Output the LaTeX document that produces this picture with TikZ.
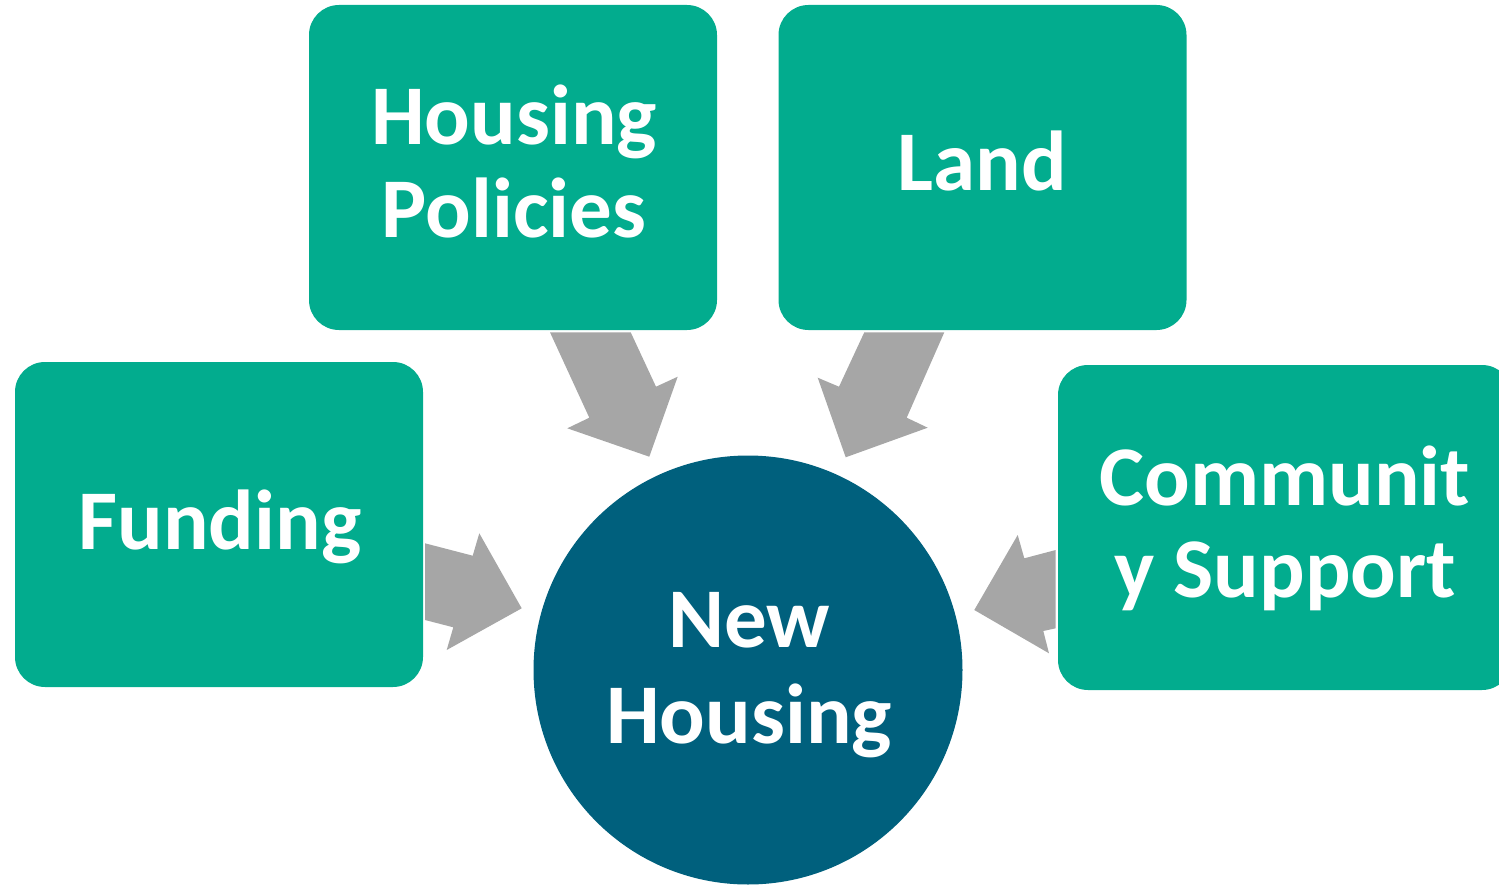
\documentclass[tikz,border=0pt]{standalone}
\usepackage{fontspec}
\setmainfont{Carlito}
\definecolor{teal1}{RGB}{2,172,142}
\definecolor{navy1}{RGB}{0,96,125}
\definecolor{gray1}{RGB}{166,166,166}
\begin{document}
\begin{tikzpicture}[x=1pt,y=-1pt,
  box/.style={fill=teal1,draw=none,rounded corners=30pt,minimum height=325pt,inner sep=0pt},
  hub/.style={circle,fill=navy1,draw=none,minimum size=429pt,inner sep=0pt},
  lbl/.style={anchor=base,text=white,inner sep=0pt,font=\fontsize{85}{92}\selectfont\bfseries},
  blockarrow/.style={fill=gray1,draw=none}]
\useasboundingbox (0,0) rectangle (1499,888);
\clip (0,0) rectangle (1499,888);
% block arrows
\fill[blockarrow] (425,543.3) -- (472.7,555.7) -- (479.3,533.3) -- (521.7,608.3) -- (446.7,650) -- (453.3,627.3) -- (425,620) -- cycle;
\fill[blockarrow] (550,332.3) -- (630.7,332.3) -- (656,386.7) -- (677.7,376.7) -- (649.3,456.7) -- (567.3,428.3) -- (589.3,417.7) -- cycle;
\fill[blockarrow] (864.3,332.3) -- (944.3,332.3) -- (906.7,417.7) -- (927.7,427.7) -- (845.7,457.3) -- (817.7,377.7) -- (839,386.7) -- cycle;
\fill[blockarrow] (1055.7,550) -- (1024.3,558.3) -- (1017.7,535) -- (974.3,610) -- (1049,653.3) -- (1043.3,631) -- (1055.7,628.3) -- cycle;
% boxes
\node[box,minimum width=408pt] (policies) at (513,167.5) {};
\node[box,minimum width=408pt] (land) at (982.5,167.5) {};
\node[box,minimum width=408pt] (funding) at (219,524.5) {};
\node[box,minimum width=454pt] (community) at (1285,527.5) {};
\node[hub] (newhousing) at (748,670) {};
% labels
\node[lbl] (policiesA) at (514,145) {Housing};
\node[lbl] (policiesB) at (514,237) {Policies};
\node[lbl] (landA) at (982,190) {Land};
\node[lbl] (fundingA) at (220,549) {Funding};
\node[lbl] (communityA) at (1285,505) {Communit};
\node[lbl] (communityB) at (1285,597) {y Support};
\node[lbl] (newA) at (749,647) {New};
\node[lbl] (newB) at (749,743) {Housing};
\end{tikzpicture}
\end{document}
